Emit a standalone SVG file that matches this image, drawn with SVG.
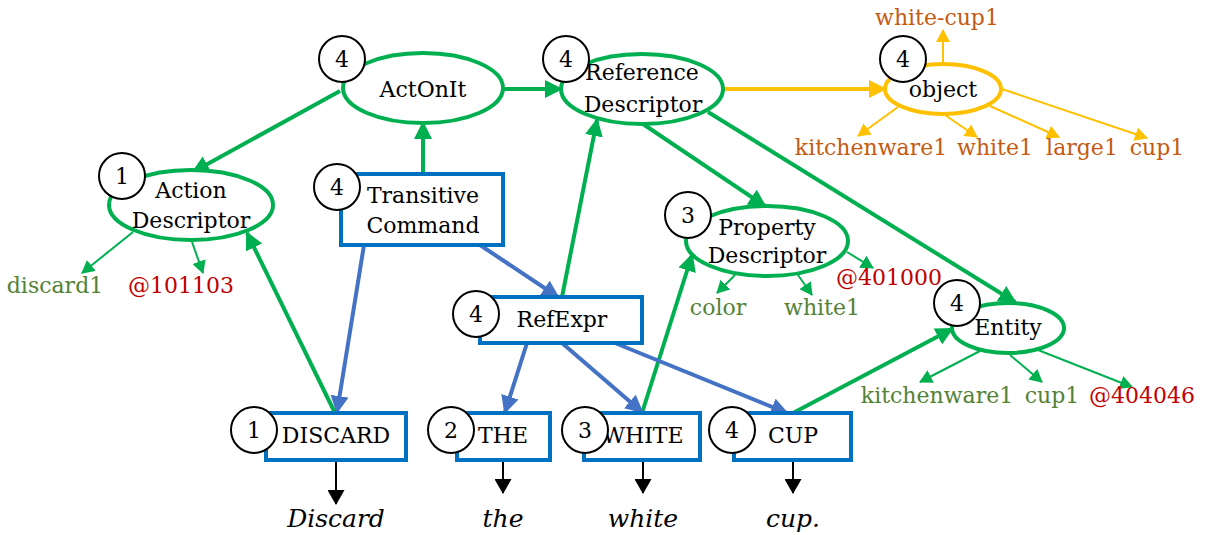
<svg xmlns="http://www.w3.org/2000/svg" width="1226" height="535" viewBox="0 0 1226 535">
<style>
.ell{fill:#fff;stroke:#00B050;stroke-width:4}
.yell{fill:#fff;stroke:#FFC000;stroke-width:4}
.box{fill:#fff;stroke:#0070C0;stroke-width:4}
.num{fill:#fff;stroke:#000;stroke-width:2}
.t{font-family:"DejaVu Serif","Liberation Serif",serif;font-size:22px;fill:#000;text-anchor:middle}
.lg{font-family:"DejaVu Serif","Liberation Serif",serif;font-size:22px;fill:#548235}
.lr{font-family:"DejaVu Serif","Liberation Serif",serif;font-size:22px;fill:#C00000}
.lo{font-family:"DejaVu Serif","Liberation Serif",serif;font-size:22px;fill:#C55A11}
.w{font-family:"DejaVu Serif","Liberation Serif",serif;font-size:25px;font-style:italic;fill:#000;text-anchor:middle}
.g{stroke:#00B050;stroke-width:4;fill:none;marker-end:url(#gA)}
.gt{stroke:#00B050;stroke-width:2;fill:none;marker-end:url(#gS)}
.b{stroke:#4472C4;stroke-width:4;fill:none;marker-end:url(#bA)}
.y{stroke:#FFC000;stroke-width:4;fill:none;marker-end:url(#yA)}
.yt{stroke:#FFC000;stroke-width:2;fill:none;marker-end:url(#yS)}
.k{stroke:#000;stroke-width:2;fill:none;marker-end:url(#kA)}
</style>
<defs>
<marker id="gA" markerUnits="userSpaceOnUse" viewBox="0 0 18 18" refX="16" refY="9" markerWidth="18" markerHeight="18" orient="auto"><path d="M0,0 L18,9 L0,18 z" fill="#00B050"/></marker>
<marker id="gS" markerUnits="userSpaceOnUse" viewBox="0 0 13 14" refX="12" refY="7" markerWidth="13" markerHeight="14" orient="auto"><path d="M0,0 L13,7 L0,14 z" fill="#00B050"/></marker>
<marker id="bA" markerUnits="userSpaceOnUse" viewBox="0 0 18 18" refX="16" refY="9" markerWidth="18" markerHeight="18" orient="auto"><path d="M0,0 L18,9 L0,18 z" fill="#4472C4"/></marker>
<marker id="yA" markerUnits="userSpaceOnUse" viewBox="0 0 18 18" refX="16" refY="9" markerWidth="18" markerHeight="18" orient="auto"><path d="M0,0 L18,9 L0,18 z" fill="#FFC000"/></marker>
<marker id="yS" markerUnits="userSpaceOnUse" viewBox="0 0 13 14" refX="12" refY="7" markerWidth="13" markerHeight="14" orient="auto"><path d="M0,0 L13,7 L0,14 z" fill="#FFC000"/></marker>
<marker id="kA" markerUnits="userSpaceOnUse" viewBox="0 0 15 17" refX="14" refY="8.5" markerWidth="15" markerHeight="17" orient="auto"><path d="M0,0 L15,8.5 L0,17 z" fill="#000"/></marker>
</defs>
<g id="connectors">
<path class="g" d="M340,91 L193,172"/>
<path class="g" d="M503,89 L561,89"/>
<path class="g" d="M423,174 L423,123"/>
<path class="g" d="M335,413 L247,233"/>
<path class="g" d="M562,297 L597,120"/>
<path class="g" d="M643,124 L765,206"/>
<path class="g" d="M708,112 L1015,302"/>
<path class="g" d="M642,413 L692,255"/>
<path class="g" d="M793,413 L952,329"/>
<path class="gt" d="M133,232 L82,273"/>
<path class="gt" d="M192,242 L203,273"/>
<path class="gt" d="M735,275 L717,293"/>
<path class="gt" d="M798,275 L812,295"/>
<path class="gt" d="M847,252 L873,268"/>
<path class="gt" d="M980,351 L920,382"/>
<path class="gt" d="M1010,355 L1042,382"/>
<path class="gt" d="M1038,350 L1132,387"/>
<path class="b" d="M364,245 L337,412"/>
<path class="b" d="M480,245 L558,297"/>
<path class="b" d="M527,343 L505,412"/>
<path class="b" d="M562,343 L642,412"/>
<path class="b" d="M615,343 L787,413"/>
<path class="y" d="M723,89 L885,89"/>
<path class="yt" d="M943,63 L943,30"/>
<path class="yt" d="M898,107 L858,136"/>
<path class="yt" d="M945,115 L977,137"/>
<path class="yt" d="M990,106 L1059,137"/>
<path class="yt" d="M1002,89 L1147,138"/>
<path class="k" d="M336,460 L336,504"/>
<path class="k" d="M503,460 L503,493"/>
<path class="k" d="M643,460 L643,493"/>
<path class="k" d="M793,460 L793,493"/>
</g>
<g id="actonit">
<ellipse class="ell" cx="423" cy="88" rx="80" ry="35"/>
<text class="t" x="423" y="97">ActOnIt</text>
<circle class="num" cx="342" cy="59" r="23"/>
<text class="t" x="342" y="67">4</text>
</g>
<g id="refdesc">
<ellipse class="ell" cx="642" cy="89" rx="81" ry="35"/>
<text class="t" x="642" y="80">Reference</text>
<text class="t" x="643" y="112">Descriptor</text>
<circle class="num" cx="566" cy="59" r="23"/>
<text class="t" x="566" y="67">4</text>
</g>
<g id="object">
<ellipse class="yell" cx="943" cy="89" rx="58" ry="25"/>
<text class="t" x="943" y="97">object</text>
<circle class="num" cx="903" cy="59" r="23"/>
<text class="t" x="903" y="67">4</text>
<text class="lo" x="937" y="25" text-anchor="middle">white-cup1</text>
<text class="lo" x="871" y="155" text-anchor="middle">kitchenware1</text>
<text class="lo" x="995" y="155" text-anchor="middle">white1</text>
<text class="lo" x="1082" y="155" text-anchor="middle">large1</text>
<text class="lo" x="1157" y="155" text-anchor="middle">cup1</text>
</g>
<g id="actiondesc">
<ellipse class="ell" cx="191" cy="205" rx="82" ry="35"/>
<text class="t" x="191" y="198">Action</text>
<text class="t" x="191" y="228">Descriptor</text>
<circle class="num" cx="122" cy="176" r="23"/>
<text class="t" x="122" y="184">1</text>
<text class="lg" x="55" y="293" text-anchor="middle">discard1</text>
<text class="lr" x="181" y="293" text-anchor="middle">@101103</text>
</g>
<g id="transitive">
<rect class="box" x="341" y="174" width="162" height="71"/>
<text class="t" x="423" y="203">Transitive</text>
<text class="t" x="423" y="233">Command</text>
<circle class="num" cx="337" cy="187" r="23"/>
<text class="t" x="337" y="195">4</text>
</g>
<g id="refexpr">
<rect class="box" x="480" y="297" width="162" height="46"/>
<text class="t" x="562" y="327">RefExpr</text>
<circle class="num" cx="476" cy="314" r="23"/>
<text class="t" x="476" y="322">4</text>
</g>
<g id="propdesc">
<ellipse class="ell" cx="767" cy="241" rx="81" ry="35"/>
<text class="t" x="767" y="235">Property</text>
<text class="t" x="767" y="263">Descriptor</text>
<circle class="num" cx="688" cy="215" r="23"/>
<text class="t" x="688" y="223">3</text>
<text class="lg" x="718" y="315" text-anchor="middle">color</text>
<text class="lg" x="822" y="315" text-anchor="middle">white1</text>
<text class="lr" x="889" y="285" text-anchor="middle">@401000</text>
</g>
<g id="entity">
<ellipse class="ell" cx="1008" cy="328" rx="56" ry="25"/>
<text class="t" x="1008" y="335">Entity</text>
<circle class="num" cx="957" cy="303" r="23"/>
<text class="t" x="957" y="311">4</text>
<text class="lg" x="937" y="403" text-anchor="middle">kitchenware1</text>
<text class="lg" x="1052" y="403" text-anchor="middle">cup1</text>
<text class="lr" x="1142" y="403" text-anchor="middle">@404046</text>
</g>
<g id="discard">
<rect class="box" x="266" y="413" width="140" height="47"/>
<text class="t" x="336" y="443">DISCARD</text>
<circle class="num" cx="254" cy="430" r="23"/>
<text class="t" x="254" y="438">1</text>
<text class="w" x="336" y="527">Discard</text>
</g>
<g id="the">
<rect class="box" x="457" y="413" width="93" height="47"/>
<text class="t" x="503" y="443">THE</text>
<circle class="num" cx="451" cy="430" r="23"/>
<text class="t" x="451" y="438">2</text>
<text class="w" x="503" y="527">the</text>
</g>
<g id="white">
<rect class="box" x="584" y="413" width="116" height="47"/>
<text class="t" x="643" y="443">WHITE</text>
<circle class="num" cx="585" cy="430" r="23"/>
<text class="t" x="585" y="438">3</text>
<text class="w" x="643" y="527">white</text>
</g>
<g id="cup">
<rect class="box" x="734" y="413" width="117" height="47"/>
<text class="t" x="793" y="443">CUP</text>
<circle class="num" cx="732" cy="430" r="23"/>
<text class="t" x="732" y="438">4</text>
<text class="w" x="793" y="527">cup.</text>
</g>
</svg>
